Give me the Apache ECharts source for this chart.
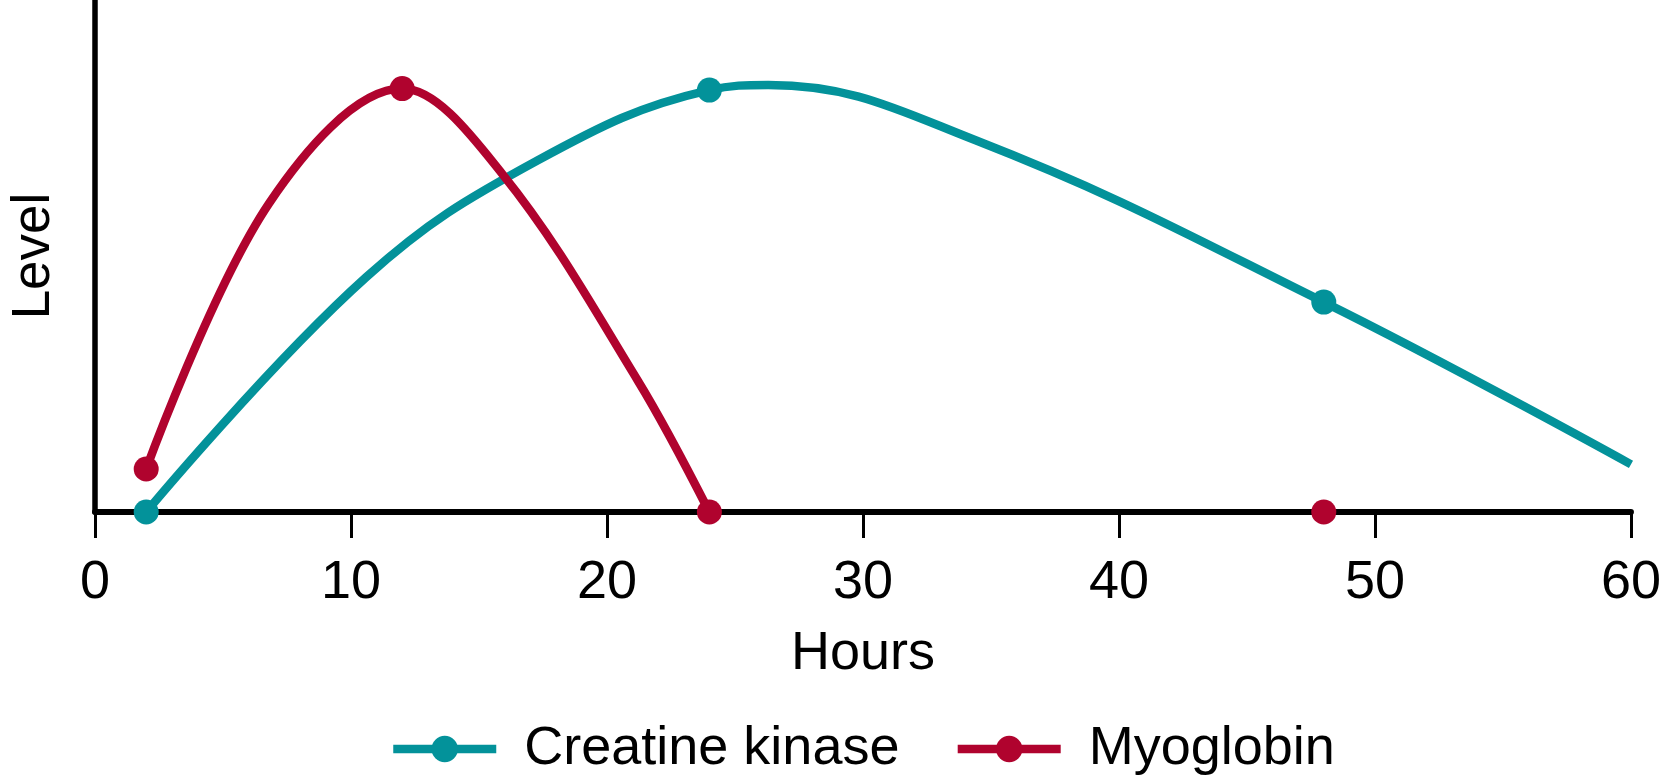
<!DOCTYPE html>
<html>
<head>
<meta charset="utf-8">
<script src="https://cdn.jsdelivr.net/npm/echarts@6/dist/echarts.min.js"></script>
<style>
html,body{margin:0;padding:0;background:#fff;}
#chart{width:1664px;height:775px;}
</style>
</head>
<body>
<div id="chart"></div>
<script>
// Values (hours, relative level 0-100)
const xTicks = [0, 10, 20, 30, 40, 50, 60];
// Creatine kinase curve readings; marked = points that carry a dot
const ckHours  = [2, 10.6, 17.3, 24, 26.3, 34.4, 48, 60];
const ckLevel  = [0, 45.9, 68.7, 82.4, 83.4, 72.6, 41, 9.3];
const ckMarked = [1, 0, 0, 1, 0, 0, 1, 0];
// Myoglobin curve readings
const myoHours  = [2, 6.8, 12, 15.9, 21.2, 24];
const myoLevel  = [8.4, 60.3, 82.7, 66.1, 25.7, 0];
const myoMarked = [1, 0, 1, 0, 0, 1];
// Isolated myoglobin dot (no connecting line)
const myoIsolatedHours = [48];
const myoIsolatedLevel = [0];

const TEAL = '#03929a';
const RED = '#b0032e';
const FONT = 'Liberation Sans, Arial, Helvetica, sans-serif';

function build(hours, levels, marked) {
  return hours.map((h, i) => marked[i]
    ? { value: [h, levels[i]] }
    : { value: [h, levels[i]], symbol: 'none' });
}
const ckData = build(ckHours, ckLevel, ckMarked);
const myoData = build(myoHours, myoLevel, myoMarked);
const myoIso = myoIsolatedHours.map((h, i) => [h, myoIsolatedLevel[i]]);

const chart = echarts.init(document.getElementById('chart'), null, { renderer: 'canvas' });
chart.setOption({
  backgroundColor: '#fff',
  animation: false,
  textStyle: { fontFamily: FONT, color: '#000' },
  grid: { left: 90, right: 33, top: 0, bottom: 263, containLabel: false },
  legend: {
    data: ['Creatine kinase', 'Myoglobin'],
    left: 384,
    top: 717,
    itemWidth: 103,
    itemHeight: 33,
    itemGap: 54,
    lineStyle: { width: 8.5 },
    textStyle: { fontFamily: FONT, fontSize: 54, color: '#000', padding: [0, 0, 0, 23] }
  },
  xAxis: {
    type: 'value',
    min: 0, max: 60, interval: 10,
    name: 'Hours',
    nameLocation: 'middle',
    nameGap: 115,
    nameTextStyle: { fontFamily: FONT, fontSize: 54, color: '#000' },
    axisLine: { show: true, onZero: false, lineStyle: { color: '#000', width: 6 } },
    axisTick: { show: true, length: 26, lineStyle: { color: '#000', width: 3 } },
    axisLabel: { margin: 44, fontFamily: FONT, fontSize: 54, color: '#000',
      formatter: v => xTicks.includes(v) ? String(v) : '' },
    splitLine: { show: false }
  },
  yAxis: {
    type: 'value',
    min: 0, max: 100,
    name: 'Level',
    nameLocation: 'middle',
    nameRotate: 90,
    nameGap: 34,
    nameTextStyle: { fontFamily: FONT, fontSize: 53, color: '#000' },
    axisLine: { show: true, onZero: false, lineStyle: { color: '#000', width: 5.5 } },
    axisTick: { show: false },
    axisLabel: { show: false },
    splitLine: { show: false }
  },
  series: [
    {
      name: 'Creatine kinase',
      type: 'line',
      smooth: 0.4,
      clip: false,
      data: ckData,
      symbol: 'circle',
      symbolSize: 25,
      showAllSymbol: true,
      lineStyle: { color: TEAL, width: 8.5 },
      itemStyle: { color: TEAL, opacity: 1 },
      z: 3
    },
    {
      name: 'Myoglobin',
      type: 'line',
      smooth: 0.35,
      clip: false,
      data: myoData,
      symbol: 'circle',
      symbolSize: 25,
      showAllSymbol: true,
      lineStyle: { color: RED, width: 8.5 },
      itemStyle: { color: RED, opacity: 1 },
      z: 4
    },
    {
      name: 'Myoglobin',
      type: 'scatter',
      clip: false,
      data: myoIso,
      symbol: 'circle',
      symbolSize: 25,
      itemStyle: { color: RED, opacity: 1 },
      z: 4
    }
  ]
});
</script>
</body>
</html>
